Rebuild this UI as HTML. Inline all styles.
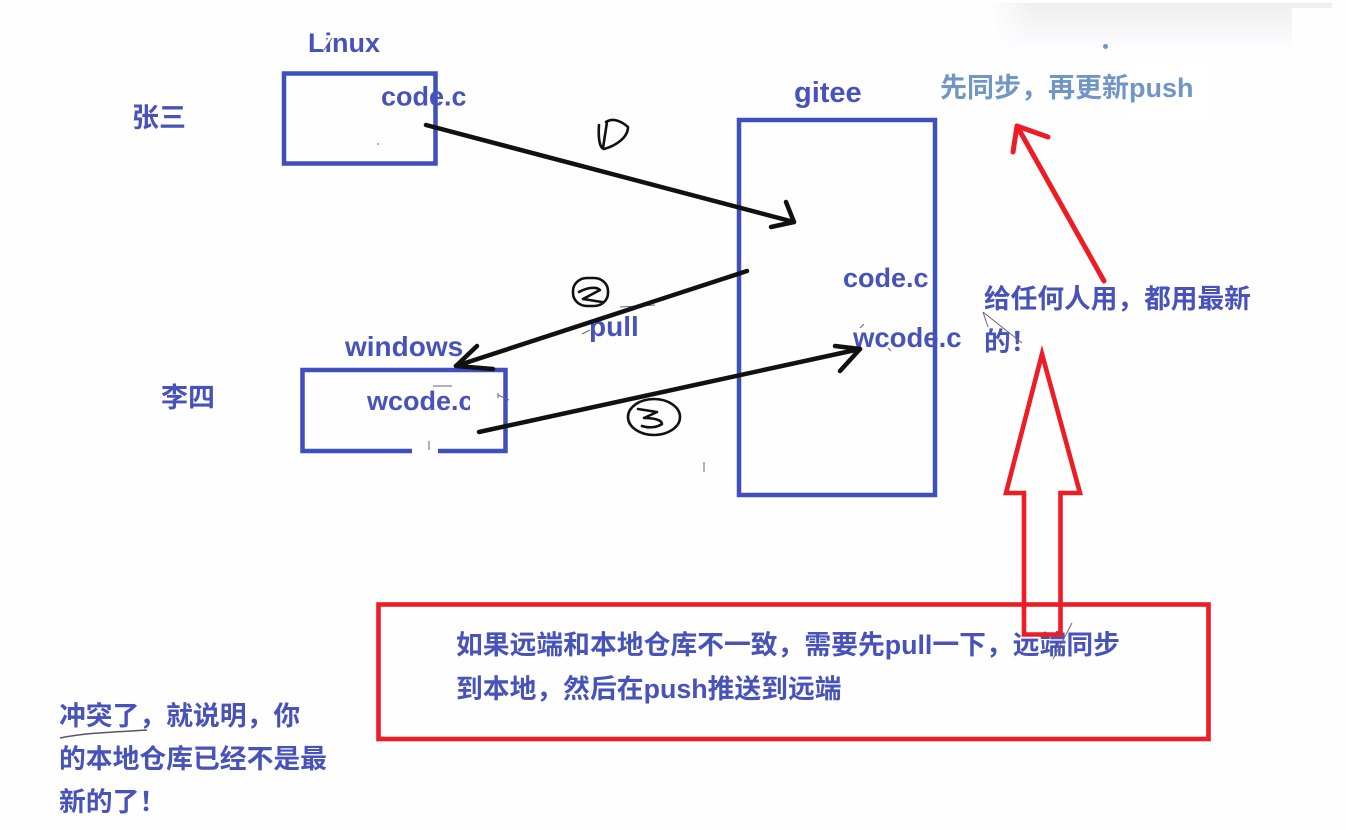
<!DOCTYPE html>
<html>
<head>
<meta charset="utf-8">
<style>
html,body{margin:0;padding:0;background:#fefeff;}
svg{display:block;}
text{font-family:"Liberation Sans","Noto Sans CJK SC",sans-serif;font-weight:700;fill:#4853b9;}
</style>
</head>
<body>
<svg width="1346" height="830" viewBox="0 0 1346 830" xmlns="http://www.w3.org/2000/svg">
<defs>
<linearGradient id="top" x1="0" y1="0" x2="0" y2="1">
<stop offset="0" stop-color="#efefef"/>
<stop offset="1" stop-color="#fcfcfe"/>
</linearGradient>
<linearGradient id="fade" x1="0" y1="0" x2="1" y2="0">
<stop offset="0" stop-color="#fefeff"/>
<stop offset="0.12" stop-color="#fefeff" stop-opacity="0"/>
</linearGradient>
</defs>
<rect width="1346" height="830" fill="#fefeff"/>
<rect x="990" y="3" width="342" height="44" fill="url(#top)"/>
<rect x="990" y="3" width="342" height="44" fill="url(#fade)"/>
<rect x="1292" y="8" width="54" height="822" fill="#fefeff"/>
<rect x="1128" y="65" width="84" height="54" fill="#ffffff"/>

<g fill="none" stroke="#3f4fbb" stroke-width="4.5">
<rect x="284" y="73.5" width="151.5" height="90"/>
<rect x="739" y="120" width="196" height="375"/>
<rect x="302.5" y="370" width="203" height="81"/>
</g>
<rect x="412" y="447" width="26" height="8" fill="#ffffff"/>

<text x="308" y="52" font-size="27">Linux</text>
<path d="M322 49 L331 37" stroke="#ffffff" stroke-width="3" fill="none"/>
<path d="M324 50 L332 38" stroke="#667" stroke-width="1" fill="none"/>
<text x="381" y="105.5" font-size="27">code.c</text>
<text x="132" y="127" font-size="27">张三</text>
<text x="794" y="102" font-size="29">gitee</text>
<text x="843" y="287" font-size="27">code.c</text>
<text x="853" y="347" font-size="27.5">wcode.c</text>
<text x="345" y="356" font-size="28">windows</text>
<text x="367" y="410" font-size="27">wcode.c</text>
<rect x="470" y="382" width="22" height="40" fill="#ffffff"/>
<text x="161" y="407" font-size="27">李四</text>
<text x="589" y="336" font-size="28">pull</text>
<text x="940" y="97" font-size="27" style="fill:#7196c6">先同步，再更新push</text>
<text x="984" y="308" font-size="26.7">给任何人用，都用最新</text>
<text x="984" y="351" font-size="26.7">的！</text>
<text x="456" y="654" font-size="26.8">如果远端和本地仓库不一致，需要先pull一下，远端同步</text>
<text x="456" y="698" font-size="26.8">到本地，然后在push推送到远端</text>
<text x="59" y="725" font-size="26.8">冲突了，就说明，你</text>
<text x="59" y="768" font-size="26.8">的本地仓库已经不是最</text>
<text x="59" y="811" font-size="26.8">新的了！</text>

<g fill="none" stroke="#667" stroke-width="1">
<path d="M433 386 L452 386"/>
<path d="M429 441 L429 450"/>
<path d="M704 462 L704 472"/>
<path d="M498 393 L498 398 M498 395 L509 400"/>
<path d="M983 312 L1022 343 M983 312 L988 327"/>
<path d="M1053 659 L1072 623"/>
<path d="M582 334 L590 330 M620 307 L655 305"/>
<path d="M378 143 L378 145"/>
<path d="M860 328 L864 324 M888 348 L891 351"/>
</g>

<g fill="none" stroke="#111" stroke-width="4.5" stroke-linecap="round" stroke-linejoin="round">
<path d="M426 125 L794 222"/>
<path d="M786 202 L794 222 L771 227"/>
<path d="M747 271 L456 366"/>
<path d="M477 346 L456 366 L493 369"/>
<path d="M479 432 L860 349"/>
<path d="M835 346 L860 349 L840 371"/>
</g>
<g fill="none" stroke="#111" stroke-width="2.6" stroke-linecap="round" stroke-linejoin="round">
<path d="M606 122 C612 118 620 120 628 127 C628 138 615 146 604 149 C600 148 598 140 599 125 M607 122 L603 148"/>
<rect x="573" y="278" width="35" height="28" rx="14" ry="13"/>
<path d="M579 292 C586 288 596 286 600 290 L583 299 L602 302"/>
<ellipse cx="654" cy="417" rx="26" ry="18"/>
<path d="M638 409 L657 412 L644 418 C654 418 662 420 662 424 C656 428 648 428 642 426"/>
</g>
<path d="M60 738 C90 732 120 732 147 730" fill="none" stroke="#556" stroke-width="1.5"/>

<g fill="none" stroke="#ee1c25" stroke-width="4.6" stroke-linejoin="miter">
<rect x="378.5" y="604.5" width="830" height="134.5"/>
<path d="M1024 634.5 L1024 493 L1006 493 L1042 354 L1080 493 L1060.5 493 L1060.5 634.5 Z"/>
</g>
<g fill="none" stroke="#ee1c25" stroke-width="5" stroke-linecap="round" stroke-linejoin="round">
<path d="M1104 281 L1017 126"/>
<path d="M1013 152 L1017 126 L1048 137"/>
</g>
<circle cx="1105.5" cy="46.5" r="2.5" fill="#7196c6"/>
</svg>
</body>
</html>
